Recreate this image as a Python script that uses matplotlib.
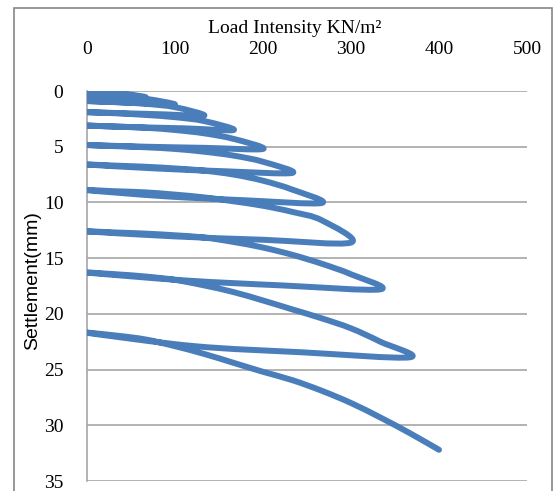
import numpy as np
import matplotlib
matplotlib.use('Agg')
import matplotlib.pyplot as plt
from matplotlib.path import Path
from matplotlib.patches import PathPatch, Rectangle

# plate load test: load / unload / reload cycles (load in kN/m2, settlement in mm)
load = [0, 33.3, 66.7, 44.4, 22.2, 0,
        33.3, 66.7, 100, 66.7, 33.3, 0,
        33.3, 66.7, 100, 133.3, 88.9, 44.4, 0,
        33.3, 66.7, 100, 133.3, 166.7, 111.1, 55.6, 0,
        33.3, 66.7, 100, 133.3, 166.7, 200, 133.3, 66.7, 0,
        33.3, 66.7, 100, 133.3, 166.7, 200, 233.3, 155.6, 77.8, 0,
        33.3, 66.7, 100, 133.3, 166.7, 200, 233.3, 266.7, 177.8, 88.9, 0,
        33.3, 66.7, 100, 133.3, 166.7, 200, 233.3, 266.7, 300, 200, 100, 0,
        33.3, 66.7, 100, 133.3, 166.7, 200, 233.3, 266.7, 300, 333.3, 222.2, 111.1, 0,
        33.3, 66.7, 100, 133.3, 166.7, 200, 233.3, 266.7, 300, 333.3, 366.7, 244.4, 122.2, 0,
        33.3, 66.7, 100, 133.3, 166.7, 200, 233.3, 266.7, 300, 333.3, 366.7, 400]
settlement = [0, 0.15, 0.55, 0.5, 0.45, 0.4,
              0.5, 0.7, 1.2, 1.1, 1.0, 0.9,
              1.0, 1.15, 1.45, 2.2, 2.1, 2.0, 1.9,
              2.0, 2.15, 2.35, 2.7, 3.5, 3.35, 3.25, 3.1,
              3.2, 3.3, 3.5, 3.8, 4.3, 5.2, 5.1, 5.0, 4.85,
              4.95, 5.05, 5.2, 5.45, 5.8, 6.35, 7.35, 7.2, 6.95, 6.6,
              6.7, 6.8, 6.95, 7.15, 7.5, 8.05, 8.85, 10.05, 9.8, 9.45, 8.9,
              9.0, 9.1, 9.3, 9.55, 9.9, 10.3, 10.85, 11.6, 13.6, 13.35, 13.05, 12.6,
              12.7, 12.8, 12.95, 13.15, 13.55, 14.05, 14.7, 15.5, 16.45, 17.8, 17.45, 17.0, 16.3,
              16.45, 16.65, 16.95, 17.45, 18.05, 18.8, 19.6, 20.4, 21.3, 22.5, 23.9, 23.45, 22.9, 21.7,
              21.95, 22.3, 22.9, 23.6, 24.4, 25.2, 25.95, 26.9, 28.0, 29.3, 30.7, 32.2]

x_ticks = [0, 100, 200, 300, 400, 500]
y_ticks = [0, 5, 10, 15, 20, 25, 30, 35]

line_color = '#4a7ebb'
grid_color = '#a6a6a6'


def smooth_path(ax, x, y):
    # Catmull-Rom style bezier through the points, built in display space
    pts = ax.transData.transform(np.column_stack([x, y]))
    n = len(pts)
    verts = [pts[0]]
    codes = [Path.MOVETO]
    for i in range(n - 1):
        p0 = pts[i - 1] if i > 0 else pts[i]
        p1 = pts[i]
        p2 = pts[i + 1]
        p3 = pts[i + 2] if i + 2 < n else pts[i + 1]
        verts += [p1 + (p2 - p0) / 6, p2 - (p3 - p1) / 6, p2]
        codes += [Path.CURVE4] * 3
    verts = ax.transData.inverted().transform(np.array(verts))
    return Path(verts, codes)


fig = plt.figure(figsize=(5.58, 4.91), dpi=100)
ax = fig.add_axes([87 / 558, 1 - 481 / 491, 440 / 558, 390 / 491])

ax.set_xlim(0, 500)
ax.set_ylim(35, 0)
ax.set_xticks(x_ticks)
ax.set_yticks(y_ticks)
ax.xaxis.tick_top()
ax.xaxis.set_label_position('top')

for s in ['top', 'right', 'bottom']:
    ax.spines[s].set_visible(False)
ax.spines['left'].set_color(grid_color)
ax.spines['left'].set_linewidth(1.2)

ax.grid(axis='y', color=grid_color, linewidth=1.2)
ax.set_axisbelow(True)
ax.tick_params(axis='x', length=0, pad=24, labelsize=14)
ax.tick_params(axis='y', length=0, pad=17, labelsize=14)
for lab in ax.get_xticklabels() + ax.get_yticklabels():
    lab.set_fontfamily('Liberation Serif')

ax.set_xlabel('Load Intensity KN/m²', family='Liberation Serif', fontsize=14)
ax.xaxis.label.set_va('center')
ax.xaxis.set_label_coords(0.473, 1.159)
ax.set_ylabel('Settlement(mm)', family='Liberation Sans', fontsize=14)
ax.yaxis.label.set_va('center')
ax.yaxis.set_label_coords(-0.123, 0.513)

ax.add_patch(PathPatch(smooth_path(ax, load, settlement), fill=False,
                       edgecolor=line_color, linewidth=4.3,
                       capstyle='round', joinstyle='round', zorder=3))

fig.add_artist(Rectangle((14 / 558, -0.05), 538 / 558, 1.05 - 8 / 491,
                         transform=fig.transFigure, fill=False,
                         edgecolor='#868686', linewidth=1.2))

fig.savefig('out.png', dpi=100)
